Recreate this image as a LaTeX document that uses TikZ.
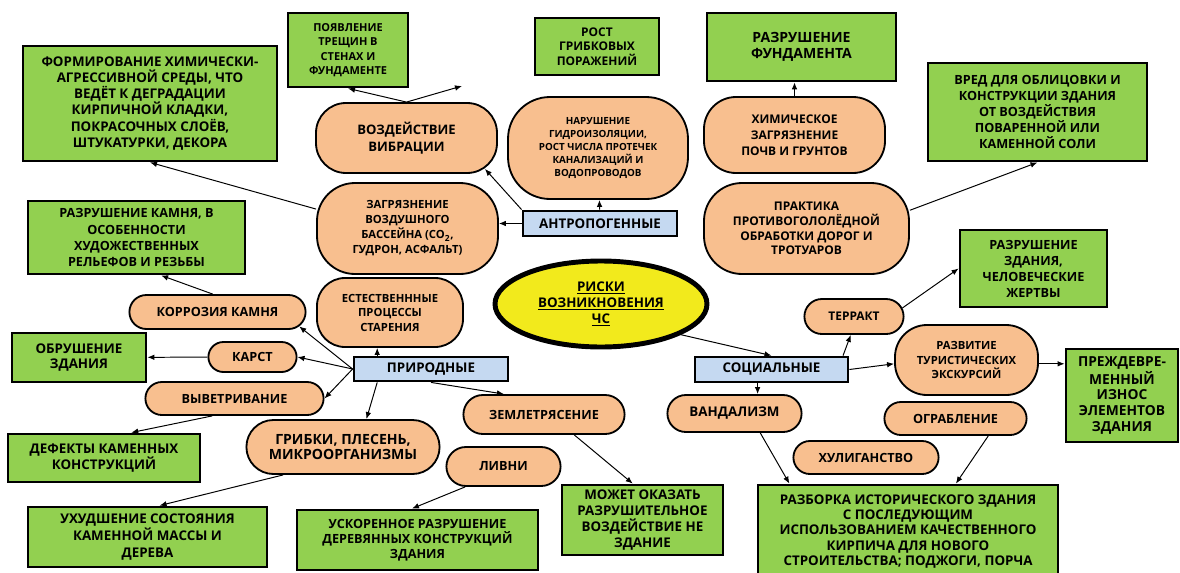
\documentclass[tikz,border=0pt]{standalone}
\usepackage{fontspec}
\setmainfont{Open Sans}
\usetikzlibrary{arrows.meta, shapes.misc, shapes.geometric, calc}
\definecolor{effgreen}{HTML}{92D050}
\definecolor{causeorange}{HTML}{F8BF8F}
\definecolor{groupblue}{HTML}{C5D9F1}
\definecolor{riskyellow}{HTML}{F2EA1C}
\newcommand{\fsz}[2]{\fontsize{#1}{#2}\selectfont\bfseries}

\begin{document}
\begin{tikzpicture}[
        x=0.025cm, y=-0.025cm,
        dims/.style 2 args={minimum width=#1*0.025cm, minimum height=#2*0.025cm},
        effect/.style={rectangle, draw, line width=2pt, fill=effgreen, align=center, inner sep=1pt, font=\fsz{9.5}{11.4}},
        cause/.style={rectangle, rounded corners=#1*0.025cm, draw, line width=1.3pt, fill=causeorange, align=center, inner sep=1pt, font=\fsz{8}{10.5}},
        pill/.style={rounded rectangle, draw, line width=1.3pt, fill=causeorange, align=center, inner sep=1pt, font=\fsz{9}{11.4}},
        group/.style={rectangle, draw, line width=2pt, fill=groupblue, inner sep=1pt, font=\fsz{9.5}{11.4}},
        arr/.style={-{Latex[length=5pt,width=4pt]}, line width=0.7pt}
    ]
    \useasboundingbox (0,0) rectangle (1180,573);

    % Centre
    \node[ellipse, draw, line width=3.5pt, fill=riskyellow, align=center, inner sep=0pt, dims={212}{86}, font=\fsz{9.5}{11.4}] (risk) at (601, 304)
        {\underline{РИСКИ}\\\underline{ВОЗНИКНОВЕНИЯ}\\\underline{ЧС}};

    % Groups
    \node[group, dims={154}{25}] (anthro) at (600, 223.5) {АНТРОПОГЕННЫЕ};
    \node[group, dims={154}{24}] (nature) at (431, 369) {ПРИРОДНЫЕ};
    \node[group, dims={153}{25}] (social) at (771.5, 369.5) {СОЦИАЛЬНЫЕ};

    % Causes
    \node[cause=30, dims={181}{70}, font=\fsz{9.3}{12}] (vibration) at (406.5, 138) {ВОЗДЕЙСТВИЕ\\ВИБРАЦИИ};
    \node[cause=38, dims={181}{91}, font=\fsz{8}{10.7}] (airpoll) at (407.5, 228.5)
        {ЗАГРЯЗНЕНИЕ\\ВОЗДУШНОГО\\БАССЕЙНА (CO\textsubscript{2},\\ГУДРОН, АСФАЛЬТ)};
    \node[cause=42, dims={180}{102}, font=\fsz{7}{9.3}] (leaks) at (598, 148)
        {НАРУШЕНИЕ\\ГИДРОИЗОЛЯЦИИ,\\РОСТ ЧИСЛА ПРОТЕЧЕК\\КАНАЛИЗАЦИЙ И\\ВОДОПРОВОДОВ};
    \node[cause=32, dims={181}{76}, font=\fsz{8.5}{11.4}] (soil) at (794.5, 135) {ХИМИЧЕСКОЕ\\ЗАГРЯЗНЕНИЕ\\ПОЧВ И ГРУНТОВ};
    \node[cause=38, dims={205}{91}, font=\fsz{8.5}{10.4}] (deicing) at (806.5, 228.5)
        {ПРАКТИКА\\ПРОТИВОГОЛОЛЁДНОЙ\\ОБРАБОТКИ ДОРОГ И\\ТРОТУАРОВ};
    \node[cause=28, dims={146}{69}, font=\fsz{8}{10.3}] (aging) at (390, 312.5) {ЕСТЕСТВЕНННЫЕ\\ПРОЦЕССЫ\\СТАРЕНИЯ};
    \node[cause=32, dims={143}{70}, font=\fsz{8}{10.3}] (tourism) at (966.5, 360) {РАЗВИТИЕ\\ТУРИСТИЧЕСКИХ\\ЭКСКУРСИЙ};
    \node[pill, dims={179}{34}] (corrosion) at (217.5, 312) {КОРРОЗИЯ КАМНЯ};
    \node[pill, dims={91}{30}] (karst) at (252.5, 357) {КАРСТ};
    \node[pill, dims={181}{33}] (weathering) at (234.5, 398.5) {ВЫВЕТРИВАНИЕ};
    \node[pill, dims={196}{54}, font=\fsz{10}{10.7}] (mold) at (343, 447) {ГРИБКИ, ПЛЕСЕНЬ,\\МИКРООРГАНИЗМЫ};
    \node[pill, dims={164}{39}] (quake) at (544, 414.5) {ЗЕМЛЕТРЯСЕНИЕ};
    \node[pill, dims={117}{39}] (rain) at (503.5, 466.5) {ЛИВНИ};
    \node[pill, dims={137}{37}, font=\fsz{9.5}{11.4}] (vandalism) at (734.5, 413.5) {ВАНДАЛИЗМ};
    \node[pill, dims={102}{35}, font=\fsz{8.5}{11}] (terror) at (854, 316.5) {ТЕРРАКТ};
    \node[pill, dims={145}{33}] (robbery) at (955.5, 418.5) {ОГРАБЛЕНИЕ};
    \node[pill, dims={148}{33}] (hooligan) at (866, 457.5) {ХУЛИГАНСТВО};

    % Effects
    \node[effect, dims={254}{115}, font=\fsz{9.5}{11.4}] (chem) at (150, 103.5)
        {ФОРМИРОВАНИЕ ХИМИЧЕСКИ-\\АГРЕССИВНОЙ СРЕДЫ, ЧТО\\ВЕДЁТ К ДЕГРАДАЦИИ\\КИРПИЧНОЙ КЛАДКИ,\\ПОКРАСОЧНЫХ СЛОЁВ,\\ШТУКАТУРКИ, ДЕКОРА};
    \node[effect, dims={120}{74}, font=\fsz{7.8}{10.3}] (cracks) at (348, 50) {ПОЯВЛЕНИЕ\\ТРЕЩИН В\\СТЕНАХ И\\ФУНДАМЕНТЕ};
    \node[effect, dims={124}{57}, font=\fsz{8.5}{10.2}] (fungi) at (597, 46.5) {РОСТ\\ГРИБКОВЫХ\\ПОРАЖЕНИЙ};
    \node[effect, dims={189}{68}, font=\fsz{10}{11.4}] (foundation) at (801.5, 47) {РАЗРУШЕНИЕ\\ФУНДАМЕНТА};
    \node[effect, dims={219}{98}, font=\fsz{9}{11.4}] (salt) at (1037.5, 112)
        {ВРЕД ДЛЯ ОБЛИЦОВКИ И\\КОНСТРУКЦИИ ЗДАНИЯ\\ОТ ВОЗДЕЙСТВИЯ\\ПОВАРЕННОЙ ИЛИ\\КАМЕННОЙ СОЛИ};
    \node[effect, dims={217}{73}, font=\fsz{9}{11.4}] (stone) at (136.5, 237.5)
        {РАЗРУШЕНИЕ КАМНЯ, В\\ОСОБЕННОСТИ\\ХУДОЖЕСТВЕННЫХ\\РЕЛЬЕФОВ И РЕЗЬБЫ};
    \node[effect, dims={147}{77}, font=\fsz{9}{11.4}] (victims) at (1033.5, 268.5) {РАЗРУШЕНИЕ\\ЗДАНИЯ,\\ЧЕЛОВЕЧЕСКИЕ\\ЖЕРТВЫ};
    \node[effect, dims={134}{49}, font=\fsz{9.5}{10.7}] (collapse) at (79, 357.5) {ОБРУШЕНИЕ\\ЗДАНИЯ};
    \node[effect, dims={192}{48}, font=\fsz{9.5}{11.2}] (defects) at (104, 458) {ДЕФЕКТЫ КАМЕННЫХ\\КОНСТРУКЦИЙ};
    \node[effect, dims={239}{60}, font=\fsz{9.5}{11.8}] (worse) at (147.5, 537) {УХУДШЕНИЕ СОСТОЯНИЯ\\КАМЕННОЙ МАССЫ И\\ДЕРЕВА};
    \node[effect, dims={241}{60}, font=\fsz{9}{10.7}] (wood) at (417.5, 540) {УСКОРЕННОЕ РАЗРУШЕНИЕ\\ДЕРЕВЯННЫХ КОНСТРУКЦИЙ\\ЗДАНИЯ};
    \node[effect, dims={161}{70}, font=\fsz{9.5}{11.5}] (quakefx) at (642.5, 520) {МОЖЕТ ОКАЗАТЬ\\РАЗРУШИТЕЛЬНОЕ\\ВОЗДЕЙСТВИЕ НЕ\\ЗДАНИЕ};
    \node[effect, dims={300}{93}, font=\fsz{9.5}{10.9}] (demolish) at (908, 531.5)
        {РАЗБОРКА ИСТОРИЧЕСКОГО ЗДАНИЯ\\С ПОСЛЕДУЮЩИМ\\ИСПОЛЬЗОВАНИЕМ КАЧЕСТВЕННОГО\\КИРПИЧА ДЛЯ НОВОГО\\СТРОИТЕЛЬСТВА; ПОДЖОГИ, ПОРЧА};
    \node[effect, dims={112}{93}, font=\fsz{9.8}{11.2}] (wear) at (1122, 395.5) {ПРЕЖДЕВРЕ-\\МЕННЫЙ\\ИЗНОС\\ЭЛЕМЕНТОВ\\ЗДАНИЯ};
    \coordinate (vibfree) at (462, 86);

    % Arrows, anthropogenic
    \draw[arr] (anthro) -- (leaks);
    \draw[arr] (anthro.north west) -- ($(vibration.south east)+(-13,-5)$);
    \draw[arr] (anthro.west) -- (anthro.west -| airpoll.east);
    \draw[arr] (vibration.north) -- (cracks.south);
    \draw[arr] (vibration.north) -- (vibfree);
    \draw[arr] (airpoll.168) -- (chem.south);
    \draw[arr] (soil.north) -- (soil.north |- foundation.south);
    \draw[arr] (deicing.10) -- (salt.south);

    % Arrows, natural
    \draw[arr] (nature.166) -- (nature.166 |- aging.south);
    \draw[arr] (nature.west) -- (corrosion.-10);
    \draw[arr] (nature.west) -- (karst.east);
    \draw[arr] (nature.west) -- (weathering.east);
    \draw[arr] (nature.-166) -- (mold.50);
    \draw[arr] (nature.south) -- (quake.153);
    \draw[arr] (karst) -- (collapse);
    \draw[arr] (corrosion.105) -- (stone.-57);
    \draw[arr] (weathering.-142) -- (defects.43);
    \draw[arr] (mold.-155) -- (worse.69);
    \draw[arr] (rain.-152) -- (wood.100);
    \draw[arr] (quake.-34) -- (quakefx.105);

    % Arrows, social
    \draw[arr] (risk.-21) -- (social.north);
    \draw[arr] (social.11) -- (terror.-100);
    \draw[arr] (social.east) -- (tourism.183);
    \draw[arr] (social.-135) -- (social.-135 |- vandalism.north);
    \draw[arr] (terror.10) -- (victims.west);
    \draw[arr] (tourism.-3) -- (tourism.-3 -| wear.west);
    \draw[arr] (vandalism.-37) -- (demolish.158);
    \draw[arr] (robbery.-28) -- (demolish.45);

\end{tikzpicture}
\end{document}
